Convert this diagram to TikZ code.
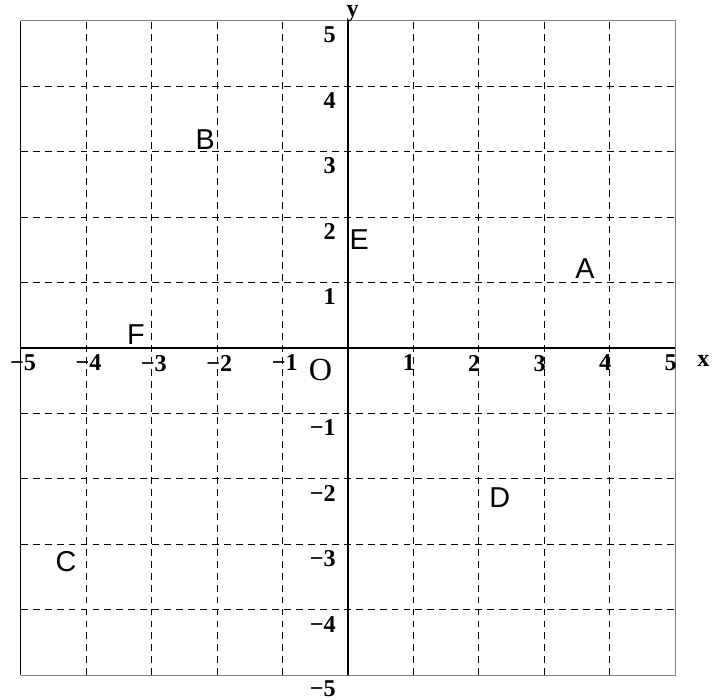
\documentclass[tikz,border=0pt]{standalone}
\usepackage{fontspec}
\setmainfont{Liberation Serif}
\newfontfamily\ptfont{Liberation Sans}
\begin{document}
\begin{tikzpicture}[x=1cm,y=1cm,
  gridline/.style={line width=0.45pt, dash pattern=on 3pt off 2.2pt},
  axisline/.style={line width=0.55pt},
  frameg/.style={line width=0.6pt, draw=gray},
  ticklab/.style={inner sep=0pt, font=\fontsize{10.5}{11}\selectfont\bfseries},
  ptlab/.style={inner sep=0pt, font=\fontsize{12.5}{13}\selectfont\ptfont}]
\useasboundingbox (-5.317,-5.363) rectangle (5.699,5.317);
% grid
\foreach \i in {-4,...,4}{
  \draw[gridline] (\i,-5) -- (\i,5);
  \draw[gridline] (-5,\i) -- (5,\i);
}
% frame
\draw[frameg] (-5,5) -- (5,5) -- (5,-5) -- (-5,-5);
\draw[axisline] (-5,-5) -- (-5,5);
% axes
\draw[axisline] (-5,0) -- (5,0);
\draw[axisline] (0,-5) -- (0,5);
% x labels
\foreach \i in {-5,...,-1}{
  \node[ticklab, anchor=north west] (xl\i) at (\i-0.17,-0.1) {−\number\numexpr-\i\relax};
}
\foreach \i in {1,...,5}{
  \node[ticklab, anchor=north west] (xl\i) at (\i-0.17,-0.1) {\i};
}
% y labels
\foreach \j in {-4,...,-1}{
  \node[ticklab, anchor=north east] (yl\j) at (-0.18,\j-0.09) {−\number\numexpr-\j\relax};
}
\node[ticklab, anchor=north east] (yl-5) at (-0.18,-5.07) {−5};
\foreach \j in {1,...,5}{
  \node[ticklab, anchor=north east] (yl\j) at (-0.18,\j-0.09) {\j};
}
\node[inner sep=0pt, font=\fontsize{14}{15}\selectfont] (O) at (-0.42,-0.33) {O};
\node[inner sep=0pt, font=\fontsize{10.5}{11}\selectfont\bfseries] (xlab) at (5.43,-0.2) {x};
\node[inner sep=0pt, font=\fontsize{10.5}{11}\selectfont\bfseries] (ylab) at (0.07,5.11) {y};
% points
\node[ptlab] (A) at (3.62,1.22) {A};
\node[ptlab] (B) at (-2.18,3.18) {B};
\node[ptlab] (C) at (-4.31,-3.27) {C};
\node[ptlab] (D) at (2.32,-2.28) {D};
\node[ptlab] (E) at (0.17,1.65) {E};
\node[ptlab] (F) at (-3.24,0.2) {F};
\end{tikzpicture}
\end{document}
